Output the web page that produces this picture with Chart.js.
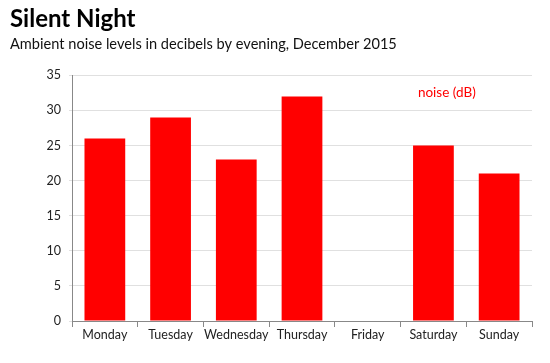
<!DOCTYPE html>
<html>
<head>
<meta charset="utf-8">
<script src="https://cdn.jsdelivr.net/npm/chart.js@4"></script>
<style>
  html, body { margin: 0; padding: 0; background: #fff; }
  #wrap { width: 550px; height: 363px; }
</style>
</head>
<body>
<div id="wrap"><canvas id="chart"></canvas></div>
<script>
const days = ['Monday', 'Tuesday', 'Wednesday', 'Thursday', 'Friday', 'Saturday', 'Sunday'];
const noise = [26, 29, 23, 32, null, 25, 21];
const seriesLabel = 'noise (dB)';

const FONT = 'Lato, "Noto Sans", sans-serif';

// dataset label drawn as plain red text inside the plot, no swatch
const legendText = {
    id: 'legendText',
    afterDraw(chart) {
        const { ctx, chartArea } = chart;
        ctx.save();
        ctx.font = '13.5px ' + FONT;
        ctx.fillStyle = '#ff0000';
        ctx.textBaseline = 'middle';
        ctx.fillText(chart.data.datasets[0].label, chartArea.left + (chartArea.right - chartArea.left) * 0.752, chartArea.top + 17);
        ctx.restore();
    }
};

new Chart(document.getElementById('chart'), {
    type: 'bar',
    data: {
        labels: days,
        datasets: [{
            label: seriesLabel,
            data: noise,
            backgroundColor: '#ff0000',
            categoryPercentage: 1,
            barPercentage: 0.62
        }]
    },
    options: {
        responsive: true,
        maintainAspectRatio: false,
        animation: false,
        layout: { padding: { left: 10, right: 18, bottom: 21 } },
        plugins: {
            legend: { display: false },
            tooltip: { enabled: false },
            title: {
                display: true,
                text: 'Silent Night',
                align: 'start',
                color: '#000',
                font: { family: FONT, size: 24, weight: 'bold' },
                padding: { top: 5, bottom: 2 }
            },
            subtitle: {
                display: true,
                text: 'Ambient noise levels in decibels by evening, December 2015',
                align: 'start',
                color: '#111',
                font: { family: FONT, size: 14.6 },
                padding: { top: 0, bottom: 22 }
            }
        },
        scales: {
            x: {
                grid: { display: true, drawOnChartArea: false, drawTicks: true, tickLength: 6, color: '#888', offset: true },
                border: { color: '#888' },
                ticks: { color: '#222', font: { family: FONT, size: 12.5 }, padding: 0, maxRotation: 0, autoSkip: false }
            },
            y: {
                min: 0,
                max: 35,
                ticks: { stepSize: 5, color: '#222', font: { family: FONT, size: 12.5 }, padding: 8 },
                grid: { color: '#e0e0e0', tickLength: 3 },
                border: { color: '#888' },
                afterFit(scale) { scale.width = 62; }
            }
        }
    },
    plugins: [legendText]
});
</script>
</body>
</html>
